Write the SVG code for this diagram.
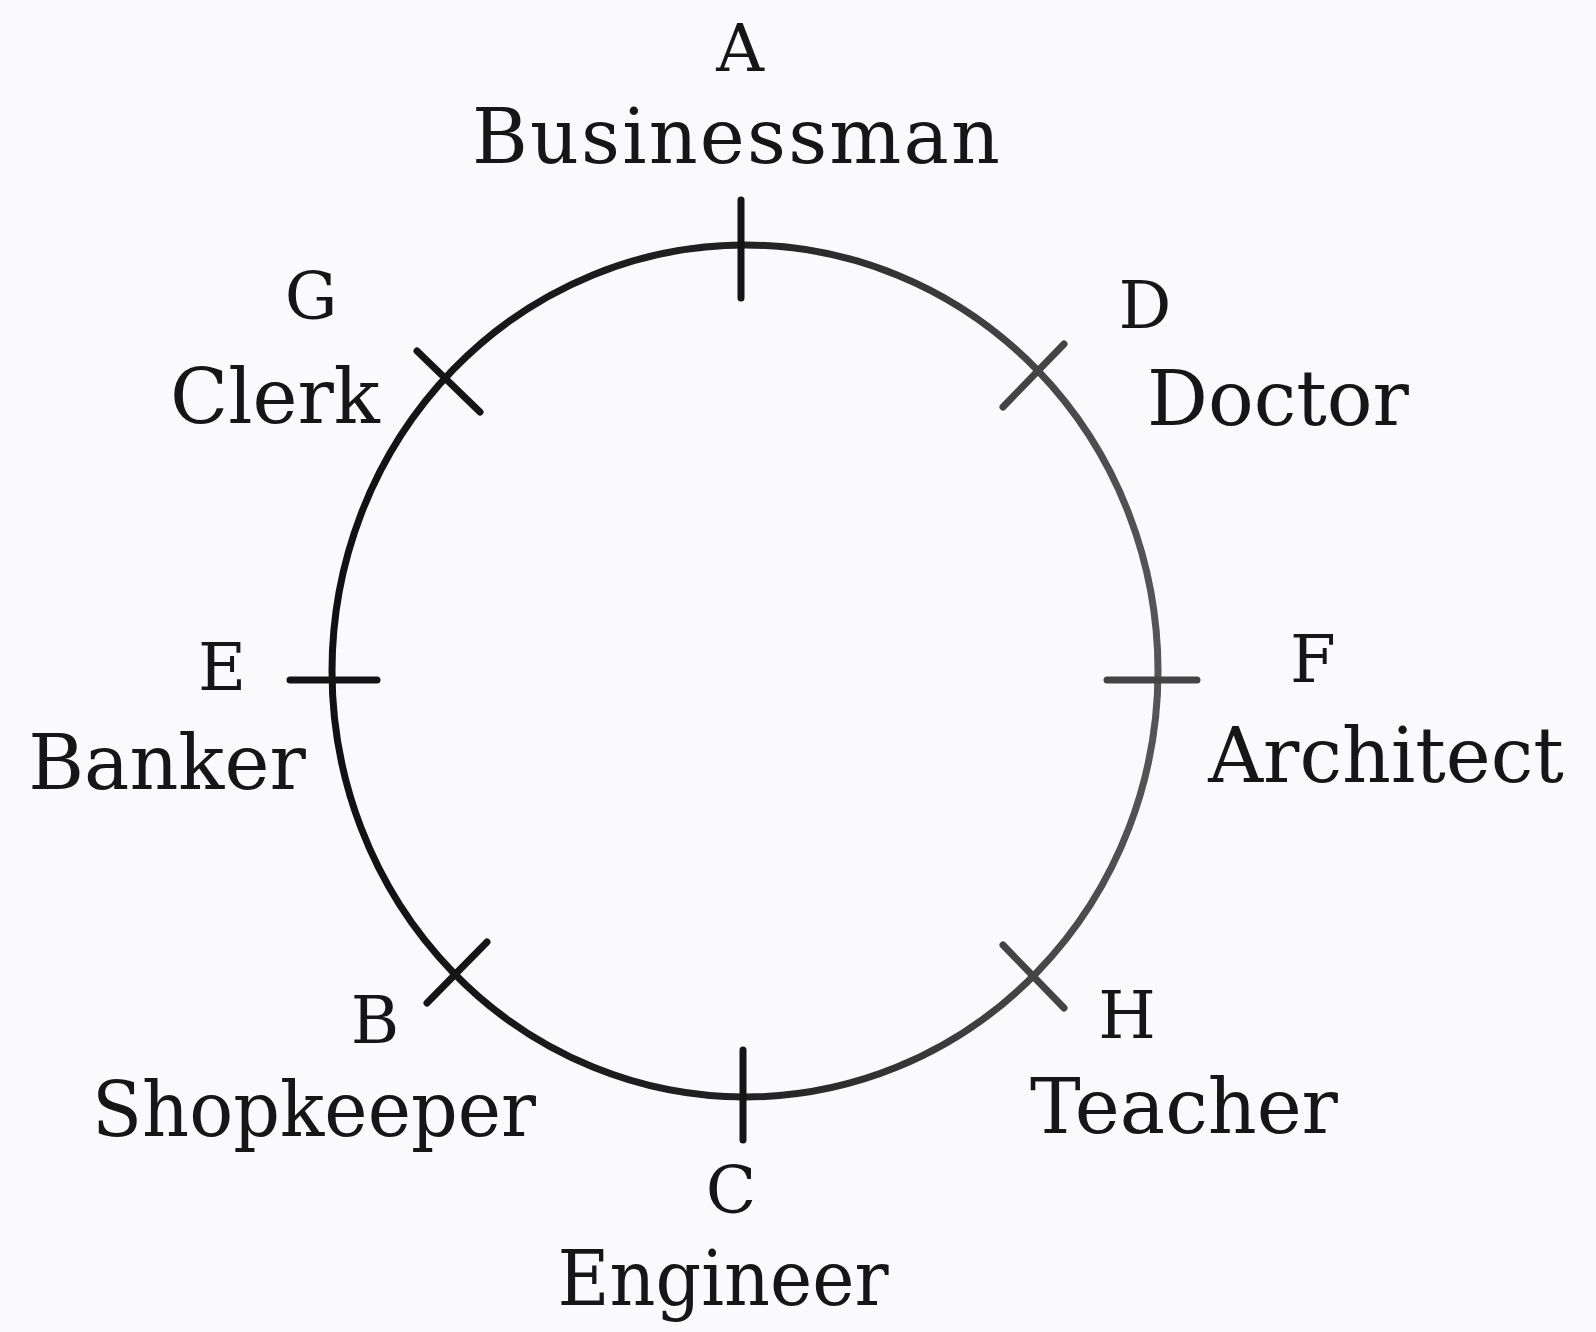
<svg xmlns="http://www.w3.org/2000/svg" width="1596" height="1332" viewBox="0 0 1596 1332">
<defs>
<linearGradient id="ring" x1="0" y1="0" x2="1" y2="0">
<stop offset="0" stop-color="#111"/>
<stop offset="0.5" stop-color="#222"/>
<stop offset="1" stop-color="#555"/>
</linearGradient>
<style>
.t{font-family:"DejaVu Serif","Liberation Serif",serif;fill:#161616;text-anchor:middle}
.l{font-size:66px}
.n{font-size:76px}
.tick{stroke:#151515;stroke-width:7;stroke-linecap:round;fill:none}
.tickr{stroke:#444;stroke-width:7;stroke-linecap:round;fill:none}
</style>
</defs>
<rect width="1596" height="1332" fill="#fafafc"/>
<g id="connectors">
<ellipse id="circle" cx="745" cy="671" rx="413" ry="426" fill="none" stroke="url(#ring)" stroke-width="7"/>
</g>
<g id="node-A">
<line class="tick" x1="741" y1="200" x2="741" y2="298"/>
<text class="t l" x="740" y="71">A</text>
<text class="t n" x="736" y="163" textLength="528" lengthAdjust="spacing">Businessman</text>
</g>
<g id="node-G">
<line class="tick" x1="417" y1="351" x2="480" y2="412"/>
<text class="t l" x="311" y="319">G</text>
<text class="t n" x="275" y="423">Clerk</text>
</g>
<g id="node-D">
<line class="tickr" x1="1003" y1="407" x2="1064" y2="344"/>
<text class="t l" x="1145" y="328">D</text>
<text class="t n" x="1278" y="425">Doctor</text>
</g>
<g id="node-E">
<line class="tick" x1="290" y1="680" x2="377" y2="680"/>
<text class="t l" x="222" y="690">E</text>
<text class="t n" x="167" y="789">Banker</text>
</g>
<g id="node-F">
<line class="tickr" x1="1107" y1="680" x2="1197" y2="680"/>
<text class="t l" x="1313" y="682">F</text>
<text class="t n" x="1386" y="782">Architect</text>
</g>
<g id="node-B">
<line class="tick" x1="427" y1="1003" x2="487" y2="942"/>
<text class="t l" x="375" y="1043">B</text>
<text class="t n" x="314" y="1136" textLength="444" lengthAdjust="spacingAndGlyphs">Shopkeeper</text>
</g>
<g id="node-H">
<line class="tickr" x1="1003" y1="945" x2="1064" y2="1008"/>
<text class="t l" x="1127" y="1038">H</text>
<text class="t n" x="1184" y="1133">Teacher</text>
</g>
<g id="node-C">
<line class="tick" x1="743" y1="1050" x2="743" y2="1140"/>
<text class="t l" x="731" y="1213">C</text>
<text class="t n" x="723" y="1305" textLength="331" lengthAdjust="spacingAndGlyphs">Engineer</text>
</g>
</svg>
